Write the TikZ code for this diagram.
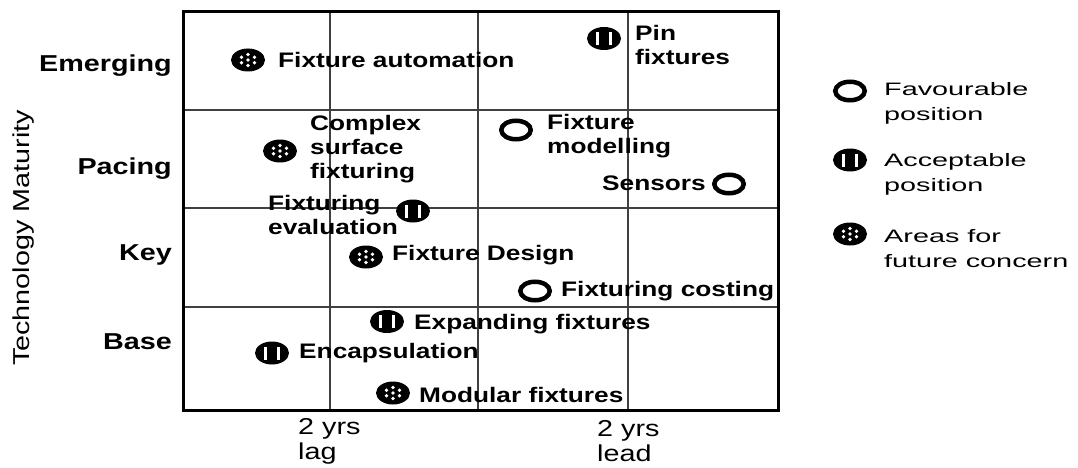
\documentclass[tikz,border=0pt]{standalone}
\usepackage{fontspec}
\setmainfont{Liberation Sans}[FakeStretch=1.25]
\newfontfamily\legendfont{Liberation Sans}[FakeStretch=1.6]
\usetikzlibrary{shapes.geometric}
\tikzset{
	sym/.style={ellipse, minimum width=34pt, minimum height=23pt, inner sep=0pt},
	favourable/.style={sym, draw, line width=4.5pt, minimum width=29.5pt, minimum height=18.5pt},
	acceptable/.style={sym, fill=black, path picture={
			\fill[white] ([xshift=-8pt,yshift=-6.5pt]path picture bounding box.center) rectangle ++(2.8pt,13pt);
			\fill[white] ([xshift=5.2pt,yshift=-6.5pt]path picture bounding box.center) rectangle ++(2.8pt,13pt);}},
	concern/.style={sym, fill=black, path picture={
			\fill[white] (path picture bounding box.center) circle (1.8pt);
			\foreach \a in {30,90,...,330}
				\fill[white] ([shift={(\a:7.5pt and 5.5pt)}]path picture bounding box.center) circle (1.8pt);}},
	item/.style={anchor=west, inner sep=0pt, align=left, font=\bfseries\fontsize{21}{24}\selectfont},
	level/.style={anchor=east, inner sep=0pt, font=\bfseries\fontsize{23}{25}\selectfont},
	legend/.style={anchor=west, inner sep=0pt, align=left, font=\legendfont\fontsize{18}{25}\selectfont},
	years/.style={anchor=west, inner sep=0pt, align=left, font=\fontsize{23}{25}\selectfont}
}

\begin{document}
\begin{tikzpicture}[x=1pt, y=-1pt]
	\useasboundingbox (0,0) rectangle (1078,468);

	% grid
	\foreach \x in {330,478,628}
		\draw[line width=2pt, black!75]	(\x,12) -- (\x,410);
	\foreach \y in {110,208,307}
		\draw[line width=2pt, black!75]	(183,\y) -- (778,\y);
	\draw[line width=3pt]	(183,12) rectangle (778,410);

	% axes
	\node[rotate=90, inner sep=0pt, font=\fontsize{23}{25}\selectfont] (maturity) at (24,238) {Technology Maturity};
	\node[level] (emerging)	at (172,66)	{Emerging};
	\node[level] (pacing)	at (172,169)	{Pacing};
	\node[level] (key)	at (172,255)	{Key};
	\node[level] (base)	at (172,342)	{Base};
	\node[years] (lag)	at (298,441)	{2 yrs\\lag};
	\node[years] (lead)	at (597,441)	{2 yrs\\lead};

	% technologies
	\node[concern] (autoS)	at (248,60) {};
	\node[item] (auto)	at (278,60) {Fixture automation};
	\node[acceptable] (pinS)	at (604,38.5) {};
	\node[item] (pin)	at (635,44.5) {Pin\\fixtures};
	\node[concern] (complexS)	at (280,151) {};
	\node[item] (complex)	at (310,149.5) {Complex\\surface\\fixturing};
	\node[favourable] (modelS)	at (516,130) {};
	\node[item] (model)	at (547,136) {Fixture\\modelling};
	\node[favourable] (sensorS)	at (729,184) {};
	\node[item, anchor=east] (sensor)	at (706,183) {Sensors};
	\node[acceptable] (evalS)	at (413,211) {};
	\node[item] (eval)	at (268,215) {Fixturing\\evaluation};
	\node[concern] (designS)	at (366,257) {};
	\node[item] (design)	at (392,255) {Fixture Design};
	\node[favourable] (costS)	at (535,291) {};
	\node[item] (cost)	at (561,291) {Fixturing costing};
	\node[acceptable] (expandS)	at (387,321.5) {};
	\node[item] (expand)	at (414,324) {Expanding fixtures};
	\node[acceptable] (encapS)	at (272,353) {};
	\node[item] (encap)	at (299,353) {Encapsulation};
	\node[concern] (modularS)	at (393,393) {};
	\node[item] (modular)	at (419,395) {Modular fixtures};

	% legend
	\node[favourable] (favS)	at (850,91) {};
	\node[legend] (fav)	at (884,103.5) {Favourable\\position};
	\node[acceptable] (accS)	at (850,160) {};
	\node[legend] (acc)	at (884,174) {Acceptable\\position};
	\node[concern] (futS)	at (850,234) {};
	\node[legend] (fut)	at (884,249) {Areas for\\future concern};
\end{tikzpicture}
\end{document}
